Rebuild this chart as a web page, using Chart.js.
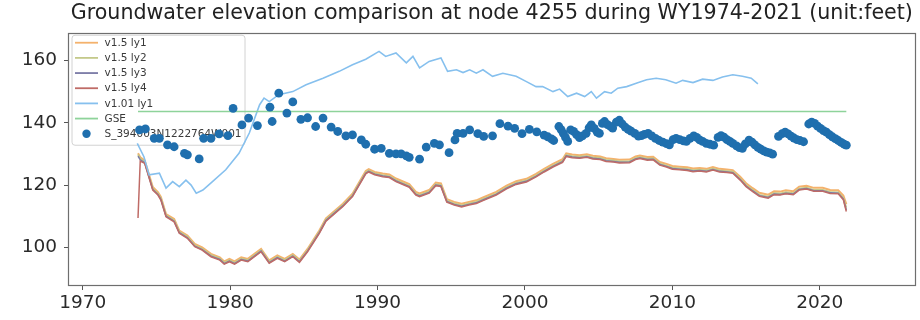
<!DOCTYPE html>
<html>
<head>
<meta charset="utf-8">
<script src="https://cdn.jsdelivr.net/npm/chart.js@4.4.1/dist/chart.umd.min.js"></script>
<style>
  html, body { margin: 0; padding: 0; background: #ffffff; }
  #wrap { width: 920px; height: 320px; }
</style>
</head>
<body>
<div id="wrap"><canvas id="c" width="920" height="320"></canvas></div>
<script>
// ---------------- data ----------------
const titleText = 'Groundwater elevation comparison at node 4255 during WY1974-2021 (unit:feet)';
const seriesNames = ['v1.5 ly1', 'v1.5 ly2', 'v1.5 ly3', 'v1.5 ly4', 'v1.01 ly1', 'GSE', 'S_394003N1222764W001'];
const xTickYears = [1970, 1980, 1990, 2000, 2010, 2020];
const yTickValues = [100, 120, 140, 160];

const v15Years = [1973.75,1973.9,1974.2,1974.5,1974.75,1975.1,1975.3,1975.65,1976.2,1976.55,1977.1,1977.6,1978.1,1978.7,1979.3,1979.6,1979.95,1980.3,1980.75,1981.2,1981.65,1982.1,1982.65,1983.2,1983.7,1984.25,1984.7,1985.25,1986.05,1986.5,1987.65,1988.3,1989.2,1989.4,1989.8,1990.35,1990.8,1991.25,1992.15,1992.6,1992.85,1993.5,1993.95,1994.3,1994.7,1995.2,1995.7,1996.2,1996.7,1997.15,1998.05,1998.75,1999.4,2000.1,2000.75,2001.3,2001.9,2002.55,2002.8,2003.2,2003.7,2004.2,2004.6,2005.1,2005.5,2006.0,2006.4,2007.1,2007.5,2007.8,2008.3,2008.7,2009.15,2009.6,2010.0,2010.5,2011.0,2011.4,2011.85,2012.3,2012.75,2013.2,2013.7,2014.1,2014.6,2015.0,2015.45,2015.9,2016.5,2016.9,2017.3,2017.7,2018.2,2018.6,2019.1,2019.6,2020.2,2020.7,2021.25,2021.6,2021.8];

const v15Ly1 = [130.2,128.9,127.9,123.3,119.4,117.7,116.2,110.7,109.1,105.4,103.8,101.1,100.0,97.9,96.8,95.5,96.3,95.5,96.8,96.3,97.9,99.5,95.8,97.4,96.3,97.9,96.1,99.5,105.4,109.3,114.0,117.2,124.5,125.1,124.2,123.7,123.4,122.1,120.3,117.8,117.3,118.4,120.8,120.5,115.5,114.6,114.0,114.6,115.1,116.0,117.8,119.8,121.2,122.0,123.6,125.2,126.8,128.3,130.2,129.8,129.6,129.9,129.4,129.2,128.6,128.4,128.1,128.2,129.2,129.5,129.0,129.1,127.4,126.8,126.1,125.9,125.7,125.3,125.5,125.2,125.8,125.2,125.0,124.8,122.7,120.6,119.0,117.5,116.9,118.0,117.9,118.3,118.0,119.5,119.8,119.1,119.1,118.4,118.3,116.6,113.9];

const v15Ly2 = [129.8,128.5,127.5,122.8,118.9,117.3,115.7,110.3,108.7,105.0,103.4,100.7,99.6,97.5,96.4,95.1,95.9,95.1,96.4,95.9,97.5,99.1,95.4,97.0,95.9,97.5,95.7,99.1,105.0,108.9,113.6,116.8,124.1,124.7,123.8,123.2,122.9,121.6,119.8,117.3,116.8,117.9,120.3,120.0,115.0,114.1,113.5,114.1,114.6,115.5,117.3,119.3,120.7,121.5,123.1,124.7,126.3,127.8,129.7,129.3,129.1,129.4,128.9,128.7,128.1,127.9,127.6,127.7,128.7,129.0,128.5,128.6,126.9,126.3,125.6,125.4,125.2,124.8,125.0,124.7,125.3,124.7,124.5,124.3,122.1,120.0,118.4,116.9,116.3,117.4,117.3,117.7,117.4,118.9,119.2,118.5,118.5,117.8,117.7,115.9,112.8];

const v15Ly3 = [129.3,128.1,127.2,122.5,118.6,117.0,115.4,110.0,108.4,104.7,103.1,100.4,99.3,97.2,96.1,94.8,95.6,94.8,96.1,95.6,97.2,98.8,95.1,96.7,95.6,97.2,95.4,98.8,104.7,108.6,113.3,116.5,123.8,124.4,123.5,122.9,122.6,121.3,119.5,117.0,116.5,117.6,120.0,119.7,114.7,113.8,113.2,113.8,114.3,115.2,117.0,119.0,120.4,121.2,122.8,124.4,126.0,127.5,129.4,129.0,128.8,129.1,128.6,128.4,127.8,127.6,127.3,127.4,128.4,128.7,128.2,128.3,126.6,126.0,125.3,125.1,124.9,124.5,124.7,124.4,125.0,124.4,124.2,124.0,121.8,119.7,118.1,116.6,116.0,117.1,117.0,117.4,117.1,118.6,118.9,118.2,118.2,117.5,117.4,115.5,112.0];

const v15Ly4 = [109.4,127.7,127.0,122.3,118.4,116.8,115.2,109.8,108.2,104.5,102.9,100.2,99.1,97.0,95.9,94.6,95.4,94.6,95.9,95.4,97.0,98.6,94.9,96.5,95.4,97.0,95.2,98.6,104.5,108.4,113.1,116.3,123.6,124.2,123.3,122.7,122.4,121.1,119.3,116.8,116.3,117.4,119.8,119.5,114.5,113.6,113.0,113.6,114.1,115.0,116.8,118.8,120.2,121.0,122.6,124.2,125.8,127.3,129.2,128.8,128.6,128.9,128.4,128.2,127.6,127.4,127.1,127.2,128.2,128.5,128.0,128.1,126.4,125.8,125.1,124.9,124.7,124.3,124.5,124.2,124.8,124.2,124.0,123.8,121.6,119.5,117.9,116.4,115.8,116.9,116.8,117.2,116.9,118.4,118.7,118.0,118.0,117.3,117.2,115.3,111.5];

const v101Years = [1973.7,1974.15,1974.5,1975.2,1975.65,1976.1,1976.55,1977.0,1977.35,1977.7,1978.15,1978.8,1979.7,1980.6,1981.3,1982.0,1982.3,1982.65,1983.3,1984.25,1985.15,1986.3,1987.4,1988.3,1989.2,1990.1,1990.55,1991.25,1991.95,1992.4,1992.85,1993.5,1994.3,1994.75,1995.35,1995.8,1996.25,1996.7,1997.15,1997.8,1998.5,1999.4,2000.1,2000.75,2001.2,2001.9,2002.35,2002.9,2003.5,2004.05,2004.5,2004.85,2005.4,2005.85,2006.3,2006.9,2007.55,2008.25,2008.9,2009.55,2010.25,2010.7,2011.4,2012.05,2012.75,2013.4,2014.1,2014.75,2015.35,2015.8];
const v101Ly1 = [133.4,129.1,123.3,123.8,119.0,121.1,119.5,121.6,120.0,117.4,118.4,121.1,124.9,130.2,136.7,145.8,147.9,146.8,149.0,150.0,152.2,154.3,156.5,158.6,160.4,162.9,161.3,162.4,159.2,161.3,157.6,159.7,160.8,156.5,157.0,156.1,157.0,155.9,157.0,154.9,155.9,154.9,153.2,151.6,151.6,150.0,150.8,148.4,149.5,148.4,150.0,147.9,150.0,149.5,151.1,151.6,152.7,153.8,154.3,153.8,152.7,153.6,152.9,154.0,153.6,154.7,155.4,154.9,154.3,152.5];

const gseYears = [1973.75, 2021.8];
const gseValues = [143.6, 143.6];

const obsYears = [1973.85,1974.25,1974.85,1975.2,1975.75,1976.2,1976.9,1977.1,1977.9,1978.2,1978.7,1979.25,1979.85,1980.2,1980.8,1981.25,1981.85,1982.7,1982.85,1983.3,1983.85,1984.25,1984.8,1985.25,1985.8,1986.3,1986.85,1987.3,1987.85,1988.3,1988.9,1989.2,1989.8,1990.25,1990.8,1991.25,1991.6,1991.95,1992.15,1992.85,1993.3,1993.85,1994.2,1994.85,1995.25,1995.4,1995.8,1996.25,1996.8,1997.2,1997.8,1998.3,1998.85,1999.3,1999.8,2000.3,2000.8,2001.3,2001.55,2001.8,2001.95,2002.3,2002.45,2002.6,2002.75,2002.9,2003.1,2003.3,2003.5,2003.7,2003.9,2004.15,2004.35,2004.5,2004.7,2004.9,2005.05,2005.25,2005.4,2005.6,2005.8,2005.95,2006.2,2006.4,2006.6,2006.8,2007.0,2007.2,2007.45,2007.7,2007.9,2008.1,2008.35,2008.6,2008.85,2009.1,2009.35,2009.6,2009.8,2010.05,2010.25,2010.5,2010.75,2010.95,2011.2,2011.45,2011.65,2011.85,2012.05,2012.3,2012.55,2012.8,2013.1,2013.3,2013.5,2013.7,2013.9,2014.1,2014.35,2014.55,2014.75,2014.95,2015.2,2015.4,2015.6,2015.8,2016.0,2016.2,2016.4,2016.6,2016.8,2017.2,2017.45,2017.65,2017.85,2018.05,2018.25,2018.45,2018.65,2018.9,2019.25,2019.45,2019.65,2019.85,2020.05,2020.25,2020.45,2020.65,2020.85,2021.05,2021.25,2021.45,2021.65,2021.8];
const obsValues = [137.7,138.0,135.0,135.0,132.9,132.3,130.2,129.7,128.4,135.0,135.0,136.4,135.9,144.6,139.3,141.5,139.1,145.0,140.4,149.5,143.1,146.7,141.1,141.6,138.8,141.5,138.6,137.2,135.8,136.1,134.5,133.1,131.5,131.8,130.2,130.0,130.0,129.4,128.9,128.3,132.2,133.4,132.9,130.4,134.5,136.6,136.6,137.7,136.5,135.6,135.8,139.7,138.9,138.2,136.5,137.9,137.1,136.0,135.5,134.8,134.3,138.8,137.8,136.6,135.3,134.0,137.7,137.2,136.2,135.2,135.8,136.6,138.4,139.3,138.2,137.0,136.6,139.8,140.4,139.4,138.8,138.3,140.2,140.8,139.6,138.6,137.9,137.3,136.6,135.7,135.9,136.3,136.6,135.8,135.0,134.3,133.8,133.3,132.9,134.6,135.0,134.6,134.2,134.0,135.0,135.8,135.3,134.5,134.0,133.4,133.1,132.8,135.3,135.9,135.4,134.6,134.0,133.4,132.6,132.0,131.8,133.2,134.4,133.8,132.9,132.1,131.5,131.0,130.6,130.3,129.9,135.6,136.5,137.0,136.4,135.7,135.1,134.6,134.3,133.9,139.6,140.2,139.8,138.9,138.2,137.5,137.0,136.2,135.5,134.9,134.3,133.7,133.1,132.8];

// ---------------- build ----------------
function pts(xs, ys) { return xs.map((x, i) => ({ x: x, y: ys[i] })); }

const lineColors = ['#f4b26c', '#c4c98a', '#7a7aa6', '#bf6b66', '#86c0ee', '#8ed39a'];
const dotColor = '#1f6fae';
const FONT = "'DejaVu Sans', 'Liberation Sans', sans-serif";

const lineSets = [
  { label: seriesNames[0], data: pts(v15Years, v15Ly1), color: lineColors[0], order: 6, w: 2.0 },
  { label: seriesNames[1], data: pts(v15Years, v15Ly2), color: lineColors[1], order: 5, w: 1.7 },
  { label: seriesNames[2], data: pts(v15Years, v15Ly3), color: lineColors[2], order: 4, w: 1.5 },
  { label: seriesNames[3], data: pts(v15Years, v15Ly4), color: lineColors[3], order: 3, w: 1.5 },
  { label: seriesNames[4], data: pts(v101Years, v101Ly1), color: lineColors[4], order: 2, w: 1.6 },
  { label: seriesNames[5], data: pts(gseYears, gseValues), color: lineColors[5], order: 1, w: 1.6 }
].map(s => ({
  label: s.label, data: s.data, borderColor: s.color, backgroundColor: s.color,
  borderWidth: s.w, pointRadius: 0, pointHoverRadius: 0, showLine: true, fill: false,
  tension: 0, order: s.order
}));

const obsSet = {
  label: seriesNames[6], data: pts(obsYears, obsValues), showLine: false,
  pointRadius: 4.4, pointHoverRadius: 4.4, pointBorderWidth: 0,
  backgroundColor: dotColor, borderColor: dotColor, order: 0
};

// legend drawn inside plot area (behind the data, like the reference)
const insideLegend = {
  id: 'insideLegend',
  beforeDatasetsDraw(chart) {
    const ctx = chart.ctx, ca = chart.chartArea;
    const ds = chart.data.datasets;
    const bx = ca.left + 3.5, by = ca.top + 2, bw = 173, bh = 110;
    ctx.save();
    ctx.beginPath();
    ctx.roundRect(bx + 0.5, by + 0.5, bw, bh, 3);
    ctx.fillStyle = 'rgba(255,255,255,0.85)';
    ctx.fill();
    ctx.lineWidth = 1;
    ctx.strokeStyle = '#d2d2d2';
    ctx.stroke();
    ctx.font = '10.5px ' + FONT;
    ctx.textBaseline = 'middle';
    ctx.textAlign = 'left';
    for (let i = 0; i < ds.length; i++) {
      const cy = ca.top + 10 + i * 15.17;
      const d = ds[i];
      if (d.showLine === false) {
        ctx.beginPath();
        ctx.arc(bx + 15, cy, 4.2, 0, Math.PI * 2);
        ctx.fillStyle = d.backgroundColor;
        ctx.fill();
      } else {
        ctx.beginPath();
        ctx.moveTo(bx + 3.5, cy);
        ctx.lineTo(bx + 26.5, cy);
        ctx.strokeStyle = d.borderColor;
        ctx.lineWidth = 1.8;
        ctx.stroke();
      }
      ctx.fillStyle = '#3a3a3a';
      ctx.fillText(d.label, bx + 33, cy + 0.5);
    }
    ctx.restore();
  }
};

const spines = {
  id: 'spines',
  afterDraw(chart) {
    const ctx = chart.ctx, ca = chart.chartArea;
    ctx.save();
    ctx.strokeStyle = '#6e6e6e';
    ctx.lineWidth = 1.2;
    ctx.strokeRect(Math.round(ca.left) + 0.5, Math.round(ca.top) + 0.5,
                   Math.round(ca.right - ca.left) - 1, Math.round(ca.bottom - ca.top) - 1);
    ctx.restore();
  }
};

new Chart(document.getElementById('c'), {
  type: 'line',
  data: { datasets: [...lineSets, obsSet] },
  options: {
    responsive: false,
    animation: false,
    devicePixelRatio: 1,
    layout: { padding: { left: 0, right: 4, top: 0, bottom: 0 } },
    plugins: {
      legend: { display: false },
      tooltip: { enabled: false },
      title: {
        display: true, text: titleText, fullSize: false, color: '#222',
        font: { family: FONT, size: 20.6, weight: 'normal', lineHeight: 1.2 },
        padding: { top: 1, bottom: 7 }
      }
    },
    scales: {
      x: {
        type: 'linear', min: 1969.0, max: 2026.5,
        afterFit(s) { s.height = 34; },
        afterBuildTicks(s) { s.ticks = xTickYears.map(v => ({ value: v })); },
        ticks: {
          includeBounds: false, autoSkip: false, maxRotation: 0, padding: 2,
          color: '#2a2a2a', font: { family: FONT, size: 18.5 },
          callback: v => String(v)
        },
        grid: { display: true, drawOnChartArea: false, drawTicks: true, tickLength: 4, color: '#555' },
        border: { display: false }
      },
      y: {
        type: 'linear', min: 87.6, max: 168.9,
        afterFit(s) { s.width = 68; },
        afterBuildTicks(s) { s.ticks = yTickValues.map(v => ({ value: v })); },
        ticks: {
          includeBounds: false, autoSkip: false, padding: 7,
          color: '#2a2a2a', font: { family: FONT, size: 18.5 },
          callback: v => String(v)
        },
        grid: { display: true, drawOnChartArea: false, drawTicks: true, tickLength: 4, color: '#555' },
        border: { display: false }
      }
    }
  },
  plugins: [insideLegend, spines]
});
</script>
</body>
</html>
